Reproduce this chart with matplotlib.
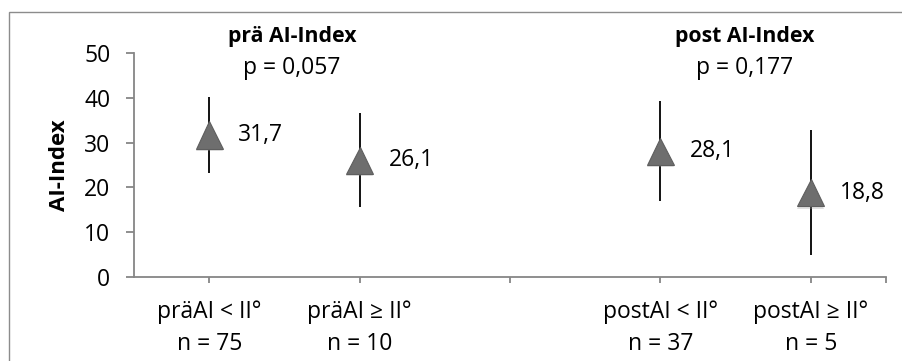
import numpy as np
import matplotlib
matplotlib.use("Agg")
import matplotlib.pyplot as plt
from matplotlib import patheffects
from matplotlib.patches import Rectangle

plt.rcParams["font.family"] = ["Open Sans", "DejaVu Sans"]

# -------------------------------------------------------------------
# Data
# -------------------------------------------------------------------
categories = ["präAI < II°\nn = 75", "präAI ≥ II°\nn = 10", "",
              "postAI < II°\nn = 37", "postAI ≥ II°\nn = 5"]
positions = [0, 1, 3, 4]
means = [31.7, 26.1, 28.1, 18.8]
errors = [8.4, 10.4, 11.1, 13.9]
mean_labels = ["31,7", "26,1", "28,1", "18,8"]

group_titles = ["prä AI-Index", "post AI-Index"]
group_pvalues = ["p = 0,057", "p = 0,177"]
group_centers = [0.55, 3.56]

AXIS_GREY = "#868686"
FS = 16.5
FS_BOLD = 15.3

fig = plt.figure(figsize=(9.02, 3.61), dpi=100)
ax = fig.add_axes([0.1486, 0.2327, 0.9823 - 0.1486, 0.8532 - 0.2327])

# outer chart frame
fig.patches.append(Rectangle((0.010, -0.05), 1.05, 0.9668 + 0.05,
                             transform=fig.transFigure, fill=False,
                             edgecolor="#8c8c8c", linewidth=1.0))

# error bars first, triangles on top
ax.errorbar(positions, means, yerr=errors, fmt="none", ecolor="black",
            elinewidth=1.3, capsize=0, zorder=2)
shadow = [patheffects.withSimplePatchShadow(offset=(0, -2),
                                            shadow_rgbFace="0.6",
                                            alpha=0.3)]
ax.plot(positions, means, linestyle="none", marker="^", markersize=19.5,
        markerfacecolor="#6e6e6e", markeredgecolor="#5e5e5e",
        markeredgewidth=0.8, zorder=3, path_effects=shadow)

for x, y, lab in zip(positions, means, mean_labels):
    ax.annotate(lab, (x, y), xytext=(21, 0), textcoords="offset points",
                ha="left", va="center", fontsize=FS)

for xc, title, pval in zip(group_centers, group_titles, group_pvalues):
    ax.text(xc, 1.050, title, transform=ax.get_xaxis_transform(),
            ha="center", va="baseline", fontsize=FS_BOLD, fontweight="bold")
    ax.text(xc, 0.906, pval, transform=ax.get_xaxis_transform(),
            ha="center", va="baseline", fontsize=FS)

ax.set_xlim(-0.5, 4.5)
ax.set_ylim(0, 50)
ax.set_yticks(np.arange(0, 51, 10))
ax.set_xticks(range(len(categories)))
ax.set_xticklabels(categories, fontsize=FS, linespacing=1.45)
ax.set_xticks([4.5], minor=True)

ax.set_ylabel("AI-Index", fontsize=16, fontweight="bold", labelpad=10)

for side in ["top", "right"]:
    ax.spines[side].set_visible(False)
for side in ["left", "bottom"]:
    ax.spines[side].set_color(AXIS_GREY)
    ax.spines[side].set_linewidth(1.3)

ax.tick_params(axis="y", length=6, width=1.3, color=AXIS_GREY,
               labelsize=FS, pad=11)
ax.tick_params(axis="x", which="both", length=4.5, width=1.3,
               color=AXIS_GREY, pad=12)

fig.savefig("out.png", dpi=100)
